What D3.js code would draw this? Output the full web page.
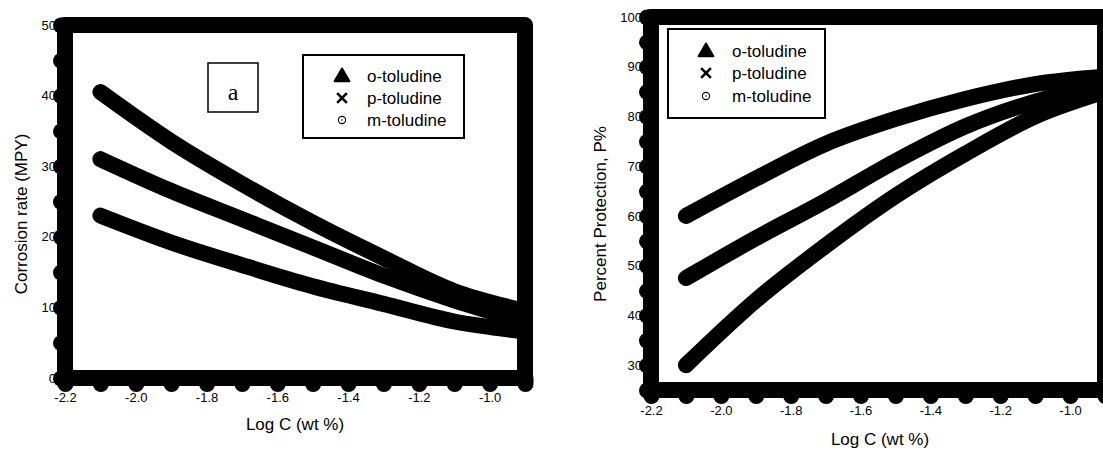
<!DOCTYPE html>
<html>
<head>
<meta charset="utf-8">
<script src="https://cdn.jsdelivr.net/npm/d3@7"></script>
<style>
body { margin: 0; background: #fff; }
svg { display: block; font-family: "Liberation Sans", Arial, sans-serif; }
</style>
</head>
<body>
<div id="vis-container"></div>
<script>
// concentrations (log C) where the fitted curves are read
const logC = [-2.1, -1.9, -1.7, -1.5, -1.3, -1.1, -0.9];

// panel a: corrosion rate (MPY)
const rateO = [23.0, 19.2, 16.0, 13.0, 10.5, 8.0, 6.6];
const rateP = [31.0, 26.5, 22.5, 18.5, 14.5, 11.0, 8.0];
const rateM = [40.5, 33.5, 27.5, 22.0, 17.0, 12.3, 9.5];

// panel b: percent protection P%
const protO = [60.0, 67.5, 74.5, 79.5, 83.5, 86.5, 88.0];
const protP = [47.5, 55.5, 63.0, 71.0, 78.0, 83.0, 86.5];
const protM = [30.0, 43.0, 54.0, 64.0, 72.5, 80.0, 85.0];

const legendNames = ["o-toludine", "p-toludine", "m-toludine"];

// ticks
const xLabels = [-2.2, -2.0, -1.8, -1.6, -1.4, -1.2, -1.0];
const xMinor = [-2.2, -2.1, -2.0, -1.9, -1.8, -1.7, -1.6, -1.5, -1.4, -1.3, -1.2, -1.1, -1.0, -0.9];
const rateLabels = [0, 10, 20, 30, 40, 50];
const rateMinor = [0, 5, 10, 15, 20, 25, 30, 35, 40, 45, 50];
const protLabels = [30, 40, 50, 60, 70, 80, 90, 100];
const protMinor = [25, 30, 35, 40, 45, 50, 55, 60, 65, 70, 75, 80, 85, 90, 95, 100];

let width = 1103;
let height = 451;
let svg = d3.select("#vis-container").append("svg").attr("width", width).attr("height", height);

function drawPanel(p) {
    let x = d3.scaleLinear().domain([-2.2, -0.9]).range(p.xRange);
    let y = d3.scaleLinear().domain(p.yDomain).range(p.yRange);
    let g = svg.append("g");

    // tick labels go first, the fat frame sits on top of them
    g.append("g")
        .attr("transform", "translate(0," + p.yRange[0] + ")")
        .call(d3.axisBottom(x).tickValues(xLabels).tickSize(0).tickPadding(p.xPad).tickFormat(d => d.toFixed(1)))
        .call(a => a.select(".domain").remove())
        .attr("font-family", null).attr("font-size", 13);

    g.append("g")
        .attr("transform", "translate(" + p.xRange[0] + ",0)")
        .call(d3.axisLeft(y).tickValues(p.yLabels).tickSize(0).tickPadding(9).tickFormat(d3.format("d")))
        .call(a => a.select(".domain").remove())
        .attr("font-family", null).attr("font-size", 13);

    // curves
    let line = d3.line()
        .x((d, i) => x(logC[i]))
        .y(d => y(d))
        .curve(d3.curveMonotoneX);

    g.append("g").selectAll("path")
        .data(p.series).enter().append("path")
        .attr("d", d => line(d))
        .attr("fill", "none")
        .attr("stroke", "#000")
        .attr("stroke-width", 16)
        .attr("stroke-linecap", "round");

    // frame
    g.append("rect")
        .attr("x", x(-2.2)).attr("y", y(p.yDomain[1]))
        .attr("width", x(-0.9) - x(-2.2))
        .attr("height", y(p.yDomain[0]) - y(p.yDomain[1]))
        .attr("fill", "none")
        .attr("stroke", "#000")
        .attr("stroke-width", 16)
        .attr("stroke-linejoin", "round");

    // blobby ticks
    let bx = g.append("g")
        .attr("transform", "translate(0," + p.yRange[0] + ")")
        .call(d3.axisBottom(x).tickValues(xMinor).tickSize(6).tickFormat(""));
    let by = g.append("g")
        .attr("transform", "translate(" + p.xRange[0] + ",0)")
        .call(d3.axisLeft(y).tickValues(p.yMinor).tickSize(4).tickFormat(""));
    [bx, by].forEach(a => {
        a.select(".domain").remove();
        a.selectAll("line").attr("stroke", "#000").attr("stroke-width", 16).attr("stroke-linecap", "round");
    });

    // axis titles
    g.append("text")
        .attr("x", p.xTitle[0]).attr("y", p.xTitle[1])
        .attr("text-anchor", "middle").attr("font-size", 17)
        .text("Log C (wt %)");
    g.append("text")
        .attr("transform", "translate(" + p.yTitle[0] + "," + p.yTitle[1] + ") rotate(-90)")
        .attr("text-anchor", "middle").attr("dy", "0.35em").attr("font-size", 17)
        .text(p.yName);

    // legend
    let L = p.legend;
    let lg = g.append("g");
    lg.append("rect")
        .attr("x", L.x).attr("y", L.y).attr("width", L.w).attr("height", L.h)
        .attr("fill", "#fff").attr("stroke", "#000").attr("stroke-width", 2);
    lg.append("path")
        .attr("transform", "translate(" + L.symX + "," + (L.rows[0] + 1) + ")")
        .attr("d", d3.symbol(d3.symbolTriangle, 95)())
        .attr("fill", "#000").attr("stroke", "#000").attr("stroke-width", 2).attr("stroke-linejoin", "round");
    lg.append("path")
        .attr("transform", "translate(" + L.symX + "," + L.rows[1] + ")")
        .attr("d", d3.symbol(d3.symbolTimes, 64)())
        .attr("fill", "none").attr("stroke", "#000").attr("stroke-width", 2.6);
    lg.append("circle")
        .attr("cx", L.symX).attr("cy", L.rows[2]).attr("r", 3.6)
        .attr("fill", "#fff").attr("stroke", "#000").attr("stroke-width", 1.1);
    lg.append("circle")
        .attr("cx", L.symX).attr("cy", L.rows[2]).attr("r", 0.8)
        .attr("fill", "#000");
    lg.selectAll("text.lg")
        .data(legendNames).enter().append("text")
        .attr("class", "lg")
        .attr("x", L.textX).attr("y", (d, i) => L.rows[i])
        .attr("dy", "0.35em").attr("font-size", 17)
        .text(d => d);
}

drawPanel({
    xRange: [65, 525], yDomain: [0, 50], yRange: [378, 25],
    yLabels: rateLabels, yMinor: rateMinor, xPad: 15,
    series: [rateO, rateP, rateM],
    xTitle: [295, 430], yTitle: [21, 214], yName: "Corrosion rate (MPY)",
    legend: {x: 303, y: 55, w: 161, h: 83, rows: [76, 98, 120], symX: 342, textX: 367}
});

drawPanel({
    xRange: [651, 1105], yDomain: [25, 100], yRange: [390, 17],
    yLabels: protLabels, yMinor: protMinor, xPad: 16,
    series: [protO, protP, protM],
    xTitle: [880, 445], yTitle: [600, 214], yName: "Percent Protection,  P%",
    legend: {x: 668, y: 29, w: 157, h: 89, rows: [51, 73, 96], symX: 706, textX: 732}
});

// the "a" panel tag
svg.append("rect")
    .attr("x", 208).attr("y", 63).attr("width", 50).attr("height", 49)
    .attr("fill", "#fff").attr("stroke", "#000").attr("stroke-width", 1.5);
svg.append("text")
    .attr("x", 233).attr("y", 93).attr("dy", "0.3em")
    .attr("text-anchor", "middle")
    .attr("font-family", "'Liberation Serif', 'Times New Roman', serif")
    .attr("font-size", 24)
    .text("a");
</script>
</body>
</html>
